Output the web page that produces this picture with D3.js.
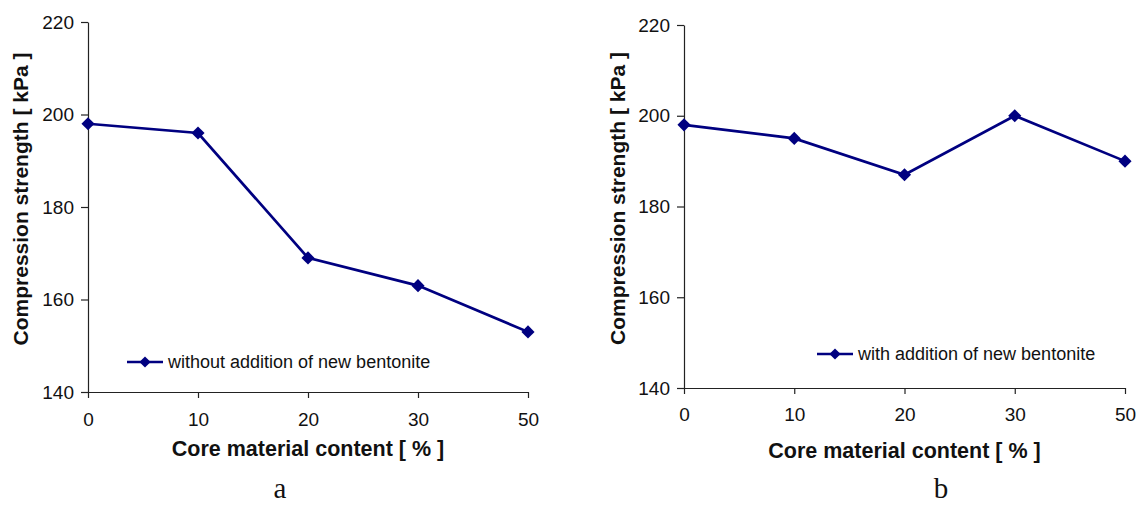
<!DOCTYPE html>
<html>
<head>
<meta charset="utf-8">
<script src="https://cdn.jsdelivr.net/npm/d3@7/dist/d3.min.js"></script>
<style>
  html, body { margin: 0; padding: 0; background: #fff; }
  svg { display: block; }
  .domain, .tick line { stroke: #222; stroke-width: 1.2; }
</style>
</head>
<body>
<svg id="chart" width="1139" height="505"></svg>
<script>
const categories = ["0", "10", "20", "30", "50"];
const valuesA = [198, 196, 169, 163, 153];
const valuesB = [198, 195, 187, 200, 190];
const yTicks = [140, 160, 180, 200, 220];
const yDomain = [140, 220];
const seriesNames = ["without addition of new bentonite", "with addition of new bentonite"];
const captions = ["a", "b"];
const xTitle = "Core material content [ % ]";
const yTitle = "Compression strength [ kPa ]";

const svg = d3.select("#chart");
const navy = "#000080";

const panels = [
  { values: valuesA, name: seriesNames[0], caption: captions[0],
    x0: 88, x1: 528, yTop: 22, yBot: 392,
    yTitleX: 28, legX: 127, legY: 362, capX: 280, capY: 498, xTitleY: 456, xLabY: 427 },
  { values: valuesB, name: seriesNames[1], caption: captions[1],
    x0: 684, x1: 1125, yTop: 25, yBot: 388,
    yTitleX: 625, legX: 817, legY: 354, capX: 941, capY: 498, xTitleY: 458, xLabY: 422 }
];

function styleTicks(sel) {
  sel.attr("font-size", null).attr("font-family", null);
  sel.selectAll(".tick text")
    .style("font-family", "'Liberation Sans', Arial, sans-serif")
    .style("font-size", "19px")
    .style("fill", "#111");
}

panels.forEach(p => {
  const g = svg.append("g");
  const x = d3.scalePoint().domain(categories).range([p.x0, p.x1]);
  const y = d3.scaleLinear().domain(yDomain).range([p.yBot, p.yTop]);

  // axes
  const xa = g.append("g").attr("transform", `translate(0,${p.yBot})`)
    .call(d3.axisBottom(x).tickSize(6).tickSizeOuter(0).tickPadding(p.xLabY - p.yBot - 20));
  const ya = g.append("g").attr("transform", `translate(${p.x0},0)`)
    .call(d3.axisLeft(y).tickValues(yTicks).tickSize(7).tickSizeOuter(0).tickPadding(7));
  xa.selectAll(".tick text").attr("dy", "0.71em");
  styleTicks(xa);
  styleTicks(ya);

  // axis titles
  g.append("text")
    .attr("x", (p.x0 + p.x1) / 2).attr("y", p.xTitleY)
    .attr("text-anchor", "middle")
    .style("font-family", "'Liberation Sans', Arial, sans-serif")
    .style("font-weight", "bold").style("font-size", "21.5px").style("fill", "#111")
    .text(xTitle);
  g.append("text")
    .attr("transform", `translate(${p.yTitleX},${(p.yTop + p.yBot) / 2 - 8}) rotate(-90)`)
    .attr("text-anchor", "middle")
    .style("font-family", "'Liberation Sans', Arial, sans-serif")
    .style("font-weight", "bold").style("font-size", "21px").style("fill", "#111")
    .text(yTitle);

  // line
  const line = d3.line().x((d, i) => x(categories[i])).y(d => y(d));
  g.append("path").datum(p.values)
    .attr("d", line).attr("fill", "none")
    .attr("stroke", navy).attr("stroke-width", 2.7);

  const diamond = d3.symbol().type(d3.symbolDiamond2).size(110);
  g.selectAll(".pt").data(p.values).enter().append("path")
    .attr("transform", (d, i) => `translate(${x(categories[i])},${y(d)})`)
    .attr("d", diamond).attr("fill", navy);

  // legend
  g.append("line").attr("x1", p.legX).attr("x2", p.legX + 36)
    .attr("y1", p.legY).attr("y2", p.legY)
    .attr("stroke", navy).attr("stroke-width", 2.7);
  g.append("path").attr("transform", `translate(${p.legX + 18},${p.legY})`)
    .attr("d", d3.symbol().type(d3.symbolDiamond2).size(80)).attr("fill", navy);
  g.append("text").attr("x", p.legX + 41).attr("y", p.legY + 6)
    .style("font-family", "'Liberation Sans', Arial, sans-serif")
    .style("font-size", "18px").style("fill", "#111")
    .text(p.name);

  // caption
  g.append("text").attr("x", p.capX).attr("y", p.capY)
    .attr("text-anchor", "middle")
    .style("font-family", "'Liberation Serif', 'Times New Roman', serif")
    .style("font-size", "29px").style("fill", "#111")
    .text(p.caption);
});
</script>
</body>
</html>
